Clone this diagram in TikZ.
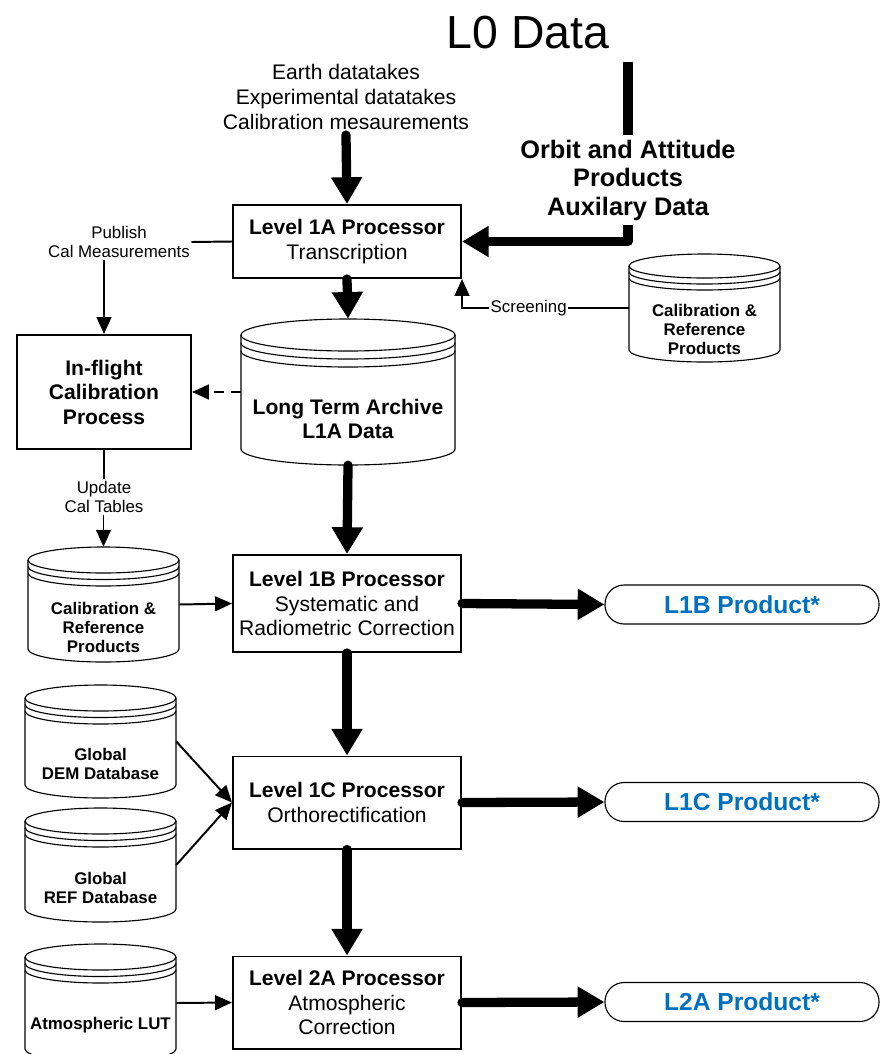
\documentclass[tikz,border=0pt]{standalone}
\usepackage{fontspec}
\setmainfont{Liberation Sans}
\usetikzlibrary{arrows.meta,calc}
\definecolor{prodblue}{RGB}{0,112,192}

\tikzset{
  proc/.style={draw, line width=1.4pt, minimum width=5.7cm, align=center, inner sep=0pt,
    font=\fontsize{15}{17.4}\selectfont},
  prod/.style={draw, line width=0.8pt, rounded corners=0.48cm, minimum width=6.85cm,
    minimum height=0.975cm, text=prodblue, font=\bfseries\fontsize{17.5}{20}\selectfont},
  dbbox/.style={draw=none, inner sep=0pt},
  dbline/.style={line width=0.8pt},
  dbtext/.style={align=center, font=\bfseries\fontsize{12}{13.5}\selectfont},
  dbbig/.style={align=center, font=\bfseries\fontsize{15}{17.5}\selectfont},
  note/.style={align=center, font=\fontsize{12}{14}\selectfont, inner sep=1pt},
  flow/.style={line width=6.6pt, line cap=round, line join=round, -{Triangle[length=19pt,width=21pt]}},
  link/.style={line width=1.4pt, -{Triangle[length=12pt,width=10.5pt]}},
}

% database drum: [text style] name, cx, cy, width, height, ellipse radius, text
\newcommand{\dbcyl}[8][dbtext]{%
  \pgfmathsetmacro{\dbl}{#3-#5/2}
  \pgfmathsetmacro{\dbr}{#3+#5/2}
  \pgfmathsetmacro{\dbt}{#4-#6/2+#7}
  \pgfmathsetmacro{\dbb}{#4+#6/2-#7}
  \pgfmathsetmacro{\dbg}{#7/2}
  \node[dbbox, minimum width={#5*0.025cm}, minimum height={#6*0.025cm}] (#2) at (#3,#4) {};
  \draw[dbline] (\dbl,\dbt) -- (\dbl,\dbb) arc[start angle=180, end angle=0, x radius=#5/2, y radius=#7] -- (\dbr,\dbt);
  \draw[dbline] (#3,\dbt) ellipse[x radius=#5/2, y radius=#7];
  \foreach \ring in {1,2}
    \draw[dbline] (\dbl,\dbt+\ring*\dbg) arc[start angle=180, end angle=0, x radius=#5/2, y radius=#7];
  \node[#1] (#2-t) at (#3,#4+1.5*#7+3) {#8};
}

\begin{document}
\begin{tikzpicture}[x=0.025cm,y=-0.025cm]
\useasboundingbox (0,0) rectangle (881,1054);

% inputs
\node[font=\fontsize{33}{40}\selectfont] (l0) at (528,33) {L0 Data};
\node[align=center, font=\fontsize{15}{18}\selectfont] (src) at (346,97)
  {Earth datatakes\\Experimental datatakes\\Calibration mesaurements};
\node[align=center, font=\bfseries\fontsize{18}{20.3}\selectfont] (orbit) at (628,180)
  {Orbit and Attitude\\Products\\Auxilary Data};

% processors
\node[proc, minimum height=1.825cm] (l1a) at (347,241.5) {{\bfseries Level 1A Processor}\\Transcription};
\node[proc, minimum height=2.425cm] (l1b) at (347,603.5) {{\bfseries Level 1B Processor}\\Systematic and\\Radiometric Correction};
\node[proc, minimum height=2.3cm] (l1c) at (347,802.5) {{\bfseries Level 1C Processor}\\Orthorectification};
\node[proc, minimum height=2.3cm] (l2a) at (347,1002.5) {{\bfseries Level 2A Processor}\\Atmospheric\\Correction};
\node[proc, minimum width=4.35cm, minimum height=2.85cm, font=\bfseries\fontsize{15}{17.4}\selectfont]
  (inflight) at (104,392) {In-flight\\Calibration\\Process};

% products
\node[prod] (p1b) at (742,604.5) {L1B Product*};
\node[prod] (p1c) at (742,802) {L1C Product*};
\node[prod] (p2a) at (742,1002) {L2A Product*};

% databases
\dbcyl[dbbig]{arch}{348}{392}{214}{146}{16}{Long Term Archive\\L1A Data}
\dbcyl{calR}{704.5}{308}{151}{108}{12}{Calibration \&\\Reference\\Products}
\dbcyl{calL}{103.5}{604.5}{151}{115}{13}{Calibration \&\\Reference\\Products}
\dbcyl{dem}{100.5}{741.5}{151}{113}{13}{Global\\DEM Database}
\dbcyl{ref}{100.5}{865}{151}{114}{13}{Global\\REF Database}
\dbcyl{lut}{100.5}{1003}{151}{118}{13}{Atmospheric LUT}

% labels
\node[note] (pub) at (119,242) {Publish\\Cal Measurements};
\node[note] (upd) at (104,497) {Update\\Cal Tables};

% connectors
\draw[flow] (src.south) -- (l1a.north);
\draw[line width=6.6pt] ($(orbit.north |- l0.south)+(0,8)$) -- (orbit.north);
\draw[flow, line cap=butt] (orbit.south) |- (l1a.east);
\draw[line width=1.4pt] (l1a.west) -- (pub.east);
\draw[link] (pub.south -| inflight.north) -- (inflight.north);
\draw[link] (calR.west) -| node[note, fill=white, pos=0.3] (scr) {Screening} (l1a.south east);
\draw[flow] (l1a.south) -- (arch.north);
\draw[link, dash pattern=on 7pt off 5pt] (arch.west) -- (inflight.east);
\draw[flow] (arch.south) -- (l1b.north);
\draw[line width=1.4pt] (inflight.south) -- (upd.north);
\draw[link] (upd.south -| calL.north) -- (calL.north);
\draw[link] (calL.east) -- (l1b.west);
\draw[flow] (l1b.east) -- (p1b.west);
\draw[flow] (l1b.south) -- (l1c.north);
\draw[link] (dem.east) -- (l1c.west);
\draw[link] (ref.east) -- (l1c.west);
\draw[flow] (l1c.east) -- (p1c.west);
\draw[flow] (l1c.south) -- (l2a.north);
\draw[link] (lut.east) -- (l2a.west);
\draw[flow] (l2a.east) -- (p2a.west);
\end{tikzpicture}
\end{document}
